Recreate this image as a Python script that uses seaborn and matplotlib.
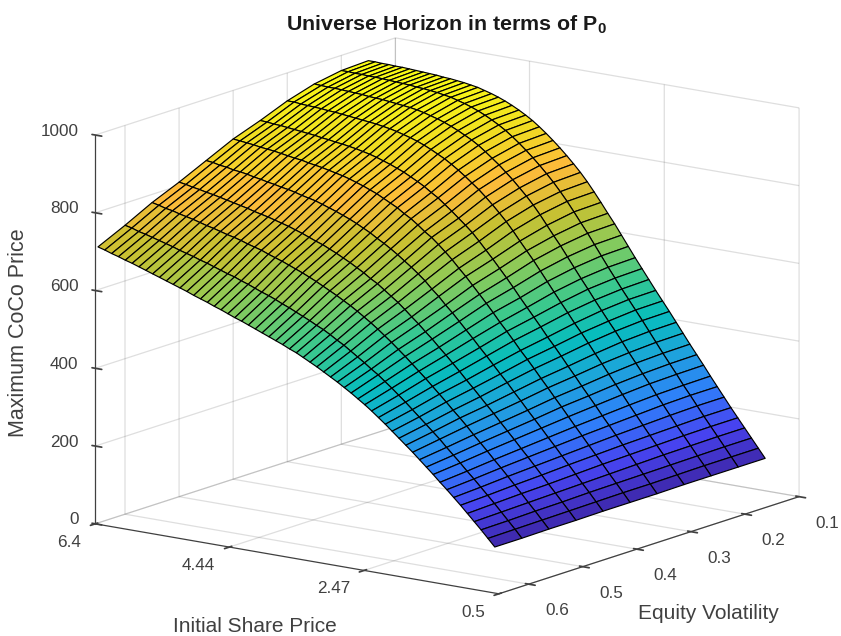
import numpy as np
import matplotlib
matplotlib.use("Agg")
import matplotlib.pyplot as plt
from matplotlib.colors import LinearSegmentedColormap
import seaborn as sns

# share prices (columns) and volatilities (rows)
share_price = [6.4, 6.3, 6.2, 6.1, 6.0, 5.9, 5.8, 5.7, 5.6, 5.5, 5.4, 5.3, 5.2, 5.1, 5.0, 4.9, 4.8, 4.7, 4.6, 4.5,
               4.4, 4.3, 4.2, 4.1, 4.0, 3.9, 3.8, 3.7, 3.6, 3.5, 3.4, 3.3, 3.2, 3.1, 3.0, 2.9, 2.8, 2.7, 2.6, 2.5,
               2.4, 2.3, 2.2, 2.1, 2.0, 1.9, 1.8, 1.7, 1.6, 1.5, 1.4, 1.3, 1.2, 1.1, 1.0, 0.9, 0.8, 0.7, 0.6]
volatility = [0.65, 0.60, 0.55, 0.50, 0.45, 0.40, 0.35, 0.30, 0.25, 0.20, 0.15]

# maximum coco price, one list per volatility
vol_065 = [710, 705, 699, 694, 688, 683, 677, 671, 665, 659, 653, 647, 641, 635, 628, 622, 616, 609, 603, 596,
           589, 583, 576, 569, 562, 555, 548, 541, 533, 526, 517, 508, 499, 489, 479, 469, 458, 447, 435, 423,
           410, 396, 382, 367, 352, 337, 322, 306, 290, 274, 257, 241, 224, 207, 189, 171, 153, 134, 115]
vol_060 = [743, 739, 733, 729, 724, 719, 714, 709, 703, 698, 693, 687, 682, 676, 670, 664, 659, 652, 646, 639,
           632, 626, 619, 611, 604, 596, 588, 580, 571, 563, 553, 542, 532, 520, 508, 496, 483, 471, 457, 443,
           428, 413, 397, 381, 365, 349, 333, 315, 298, 281, 263, 246, 228, 210, 192, 173, 154, 135, 115]
vol_055 = [779, 775, 770, 767, 762, 758, 754, 749, 744, 740, 735, 730, 726, 721, 715, 710, 705, 698, 692, 686,
           679, 672, 665, 657, 649, 640, 631, 622, 612, 602, 591, 579, 567, 554, 540, 526, 511, 496, 480, 464,
           448, 431, 414, 397, 379, 362, 344, 325, 307, 289, 270, 252, 233, 214, 195, 175, 156, 136, 116]
vol_050 = [809, 806, 802, 799, 795, 792, 788, 784, 780, 776, 772, 767, 763, 759, 754, 749, 744, 738, 732, 725,
           718, 712, 704, 696, 687, 678, 668, 658, 646, 636, 623, 610, 597, 582, 566, 551, 534, 518, 500, 483,
           465, 447, 428, 410, 391, 372, 354, 334, 315, 296, 276, 257, 237, 217, 197, 177, 157, 137, 116]
vol_045 = [842, 840, 836, 834, 830, 828, 825, 821, 818, 814, 811, 807, 804, 800, 795, 791, 787, 781, 775, 769,
           762, 755, 747, 738, 729, 718, 708, 697, 685, 672, 659, 645, 630, 612, 596, 577, 560, 541, 522, 503,
           483, 464, 444, 424, 405, 384, 364, 343, 323, 303, 282, 262, 241, 221, 200, 179, 159, 138, 117]
vol_040 = [875, 873, 871, 869, 866, 864, 862, 859, 856, 853, 851, 847, 844, 841, 837, 833, 829, 824, 818, 812,
           805, 798, 789, 780, 771, 759, 749, 736, 722, 710, 695, 679, 662, 643, 625, 605, 585, 565, 544, 522,
           502, 481, 459, 439, 418, 396, 375, 353, 332, 310, 288, 267, 245, 224, 203, 181, 160, 139, 117]
vol_035 = [900, 899, 897, 896, 894, 892, 890, 888, 886, 883, 881, 878, 876, 873, 870, 866, 862, 857, 851, 845,
           838, 831, 822, 813, 803, 791, 780, 766, 752, 737, 722, 706, 687, 667, 647, 626, 605, 583, 560, 538,
           516, 494, 471, 450, 428, 405, 383, 360, 338, 316, 293, 271, 249, 227, 205, 183, 161, 139, 117]
vol_030 = [928, 928, 926, 925, 924, 923, 921, 920, 918, 916, 914, 912, 910, 908, 905, 902, 898, 893, 888, 882,
           875, 867, 858, 849, 838, 826, 813, 799, 785, 769, 752, 734, 715, 694, 671, 649, 627, 603, 579, 555,
           531, 508, 484, 462, 439, 415, 392, 368, 345, 322, 298, 275, 252, 229, 207, 185, 162, 140, 118]
vol_025 = [949, 948, 947, 947, 946, 945, 944, 943, 941, 940, 939, 937, 935, 933, 931, 928, 924, 919, 914, 908,
           901, 893, 884, 875, 864, 851, 837, 823, 807, 791, 773, 755, 735, 713, 689, 665, 642, 617, 592, 567,
           543, 518, 494, 470, 447, 423, 398, 374, 350, 327, 302, 279, 255, 231, 209, 186, 163, 141, 118]
vol_020 = [961, 961, 960, 960, 959, 959, 958, 957, 956, 955, 954, 952, 951, 949, 947, 944, 941, 936, 931, 925,
           918, 910, 901, 891, 880, 867, 853, 838, 822, 805, 787, 768, 747, 725, 701, 676, 652, 626, 600, 574,
           549, 524, 500, 476, 452, 427, 402, 377, 353, 329, 304, 281, 257, 233, 210, 187, 164, 141, 118]
vol_015 = [964, 964, 963, 963, 962, 962, 961, 960, 959, 958, 957, 955, 954, 952, 950, 947, 944, 939, 934, 928,
           921, 913, 904, 894, 883, 870, 856, 841, 825, 808, 790, 771, 750, 727, 703, 678, 654, 628, 602, 576,
           551, 526, 501, 477, 453, 428, 403, 378, 354, 330, 305, 281, 257, 233, 210, 187, 164, 141, 118]

x_ticks = [6.4, 4.44, 2.47, 0.5]
y_ticks = [0.1, 0.2, 0.3, 0.4, 0.5, 0.6]
z_ticks = [0, 200, 400, 600, 800, 1000]

parula_colors = ["#3e26a8", "#4744f0", "#2f7ffa", "#1ea3dc", "#07bdbd", "#3cc98c",
                 "#8dca58", "#c8c132", "#fdbb3a", "#f0dc22", "#f9fb15"]

sns.set_theme(style="white", rc={"grid.color": (0.15, 0.15, 0.15, 0.15), "grid.linewidth": 0.9,
                                 "axes.linewidth": 0.9})
plt.rcParams['font.family'] = ['Liberation Sans', 'DejaVu Sans']
plt.rcParams['mathtext.fontset'] = 'custom'
plt.rcParams['mathtext.bf'] = 'Liberation Sans:bold'
text_color = '#404040'

parula = LinearSegmentedColormap.from_list("parula", parula_colors)
X, Y = np.meshgrid(share_price, volatility)
Z = np.array([vol_065, vol_060, vol_055, vol_050, vol_045, vol_040, vol_035, vol_030, vol_025, vol_020, vol_015],
             dtype=float)

fig = plt.figure(figsize=(8.41, 6.36), dpi=100)
side = 900
ax = fig.add_axes([-15 / 841, -142 / 636, side / 841, side / 636], projection='3d', proj_type='ortho')
ax.patch.set_alpha(0)
ax.view_init(elev=13.7, azim=-53.8)
ax.set_box_aspect((500, 508, 400), zoom=0.882)

ax.plot_surface(X, Y, Z, cmap=parula, vmin=112, vmax=964, rstride=1, cstride=1,
                edgecolor='black', linewidth=0.85, shade=False, antialiased=True)

ax.set_xlim(6.4, 0.5)
ax.set_ylim(0.655, 0.1)
ax.set_zlim(0, 1000)
ax.set_xticks(x_ticks)
ax.set_xticklabels(['6.4', '4.44', '2.47', '0.5'], ha='right', va='baseline')
ax.set_yticks(y_ticks)
ax.set_yticklabels(['0.1', '0.2', '0.3', '0.4', '0.5', '0.6'], ha='left')
ax.set_zticks(z_ticks)
ax.set_zticklabels(['0', '200', '400', '600', '800', '1000'], ha='right', va='baseline')
ax.tick_params(labelsize=12.3, colors=text_color)
ax.xaxis.set_tick_params(pad=8)
ax.yaxis.set_tick_params(pad=6)
ax.zaxis.set_tick_params(pad=0)

for axis in (ax.xaxis, ax.yaxis, ax.zaxis):
    axis.set_pane_color((1, 1, 1, 0))
    axis.pane.set_edgecolor((1, 1, 1, 0))
    axis.line.set_color('#404040')
    axis.set_rotate_label(False)

ax.zaxis.set_ticks_position('upper')
ax.zaxis.set_label_position('upper')

ax.set_xlabel('Initial Share Price', fontsize=15, color=text_color, labelpad=26)
ax.set_ylabel('Equity Volatility', fontsize=15, color=text_color, labelpad=29)
ax.set_zlabel('Maximum CoCo Price', fontsize=15.5, color=text_color, rotation=90, labelpad=16)

fig.text(447 / 841, 1 - 25 / 636, r'Universe Horizon in terms of P$_{\mathbf{0}}$', fontsize=15.4,
         fontweight='bold', color='#1a1a1a', ha='center', va='center')

fig.savefig('out.png', dpi=100)
